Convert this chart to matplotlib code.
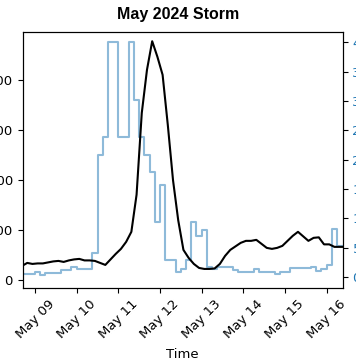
import matplotlib
matplotlib.use("Agg")
import matplotlib.pyplot as plt
import matplotlib.dates as mdates
import pandas as pd

# black line, sampled at the middle of each 3-hour bin (left axis)
line_start = "2024-05-08 16:30"
line_vals = [29, 35, 33, 34, 34, 36, 38, 39, 37, 40, 42, 43, 40, 40, 39, 35,
             31, 42, 53, 63, 77, 97, 171, 334, 420, 477, 446, 410, 310, 200,
             120, 61, 45, 33, 25, 23, 23, 24, 33, 49, 61, 68, 75, 79, 79, 81,
             73, 65, 63, 65, 69, 79, 89, 97, 88, 79, 85, 86, 72, 72, 67, 67, 67]

# 3-hour step values (right axis), bins start at these times
step_start = "2024-05-08 15:00"
step_vals = [0.5, 0.5, 0.5,
             0.8, 0.35, 0.65, 0.65, 0.65, 1.1, 1.1, 1.75,
             1.3, 1.3, 1.3, 4.1, 20.8, 23.8, 40, 40,
             23.8, 23.8, 40, 30.2, 23.8, 20.8, 17.9, 9.4,
             15.6, 2.9, 2.9, 0.9, 1.3, 2.9, 9.4, 6.9,
             8.0, 1.6, 1.3, 1.7, 1.6, 1.6, 1.2, 0.8,
             0.8, 0.8, 1.3, 0.8, 0.9, 0.9, 0.45, 0.75,
             0.75, 1.5, 1.5, 1.5, 1.5, 1.65, 1.05, 1.3,
             2.0, 8.1, 5.2]

line_t = pd.date_range(line_start, periods=len(line_vals), freq="3h")
step_t = pd.date_range(step_start, periods=len(step_vals) + 1, freq="3h")

fig = plt.figure(figsize=(3.56, 3.64), dpi=100)
ax = fig.add_axes([0.0638, 0.2088, 0.899, 0.7041])
ax2 = ax.twinx()

ax2.step(step_t, step_vals + [step_vals[-1]], where="post",
         color="tab:blue", alpha=0.5, lw=1.5)
ax.plot(line_t, line_vals, color="black", lw=1.5)

# black line drawn above the steps
ax.set_zorder(ax2.get_zorder() + 1)
ax.patch.set_visible(False)

ax.set_xlim(pd.Timestamp("2024-05-08 16:54"), pd.Timestamp("2024-05-16 09:18"))
ax.set_ylim(-15, 496)
ax2.set_ylim(-1.9, 41.8)
ax.set_yticks([0, 100, 200, 300, 400])
ax2.set_yticks(range(0, 41, 5))

ax.xaxis.set_major_locator(mdates.DayLocator())
ax.xaxis.set_major_formatter(mdates.DateFormatter("%b %d"))
for lab in ax.get_xticklabels():
    lab.set_rotation(45)

ax.tick_params(labelsize=9.5)
ax2.tick_params(labelsize=9.5, labelcolor="tab:blue")
ax.set_xlabel("Time", fontsize=9.5, labelpad=5)

fig.suptitle("May 2024 Storm", fontweight="bold", fontsize=11.5,
             family="Liberation Sans", y=0.9615, va="center")

fig.savefig("out.png", dpi=100)
